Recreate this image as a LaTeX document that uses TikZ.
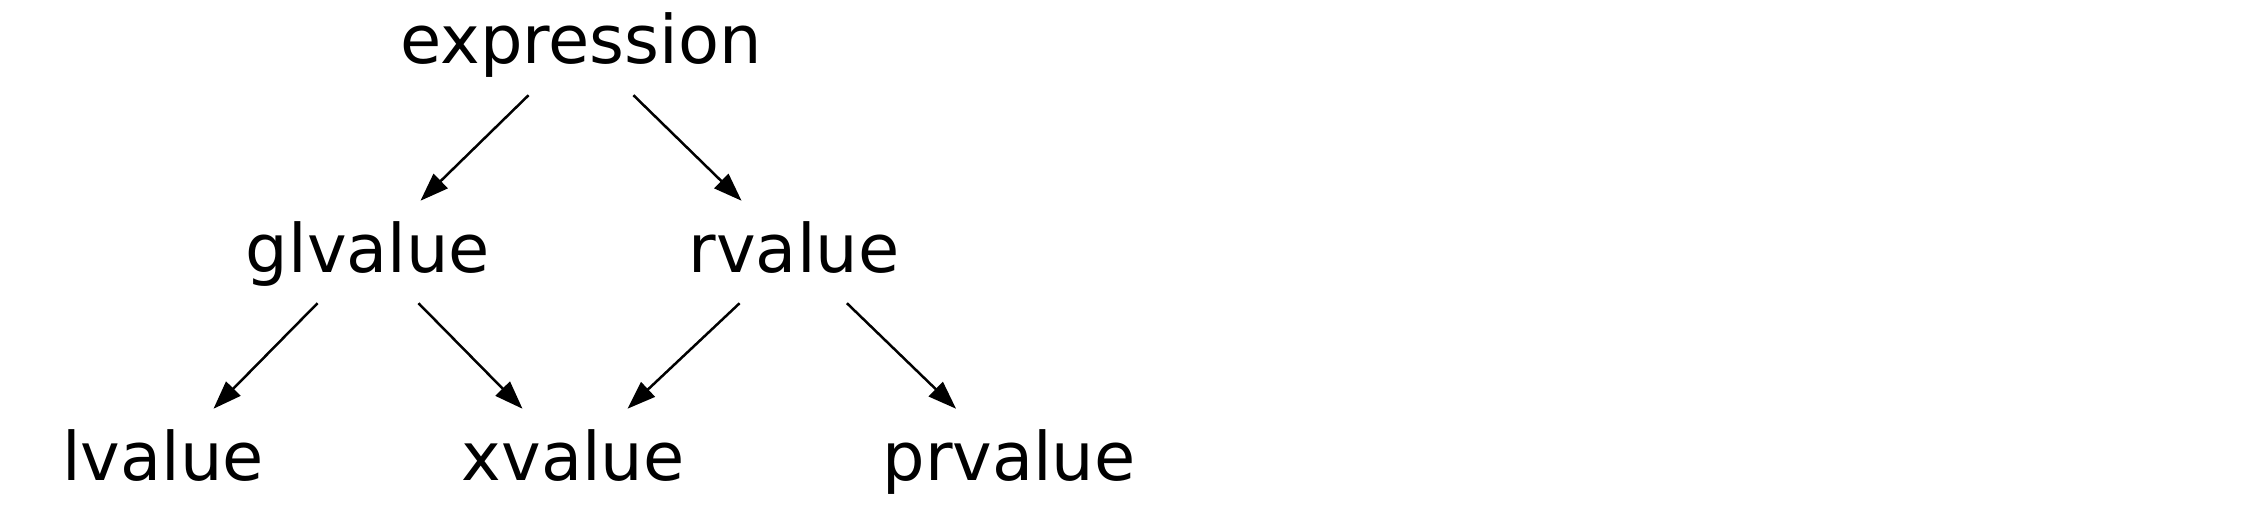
\documentclass[tikz,border=0pt]{standalone}
\usepackage{fontspec}
\setmainfont{DejaVu Sans}
\usepackage{tikz}
\usetikzlibrary{matrix,arrows.meta}

\begin{document}
\begin{tikzpicture}[>={Triangle[length=8.5pt,width=6pt]}, line width=.75pt]
					\fontsize{20.1pt}{24pt}\selectfont
					\useasboundingbox (0pt,0pt) rectangle (678.6pt,-157.5pt);
					\matrix(m) at (175.8pt,-75.6pt) [matrix of nodes, nodes={inner sep=0pt, minimum width=114pt, minimum height=30pt, text height=12pt, text depth=0pt}, column sep=-52.5pt, row sep=32.4pt]{
									&						&|[xshift=2.4pt](expression)|expression	&[2.4pt]				&[3pt]					\\
									&|(glvalue)|glvalue		&							&|(rvalue)|rvalue		&						\\
						|(lvalue)|lvalue	&						&|(xvalue)|xvalue			&						&|(prvalue)|prvalue		\\
					};
					\draw[->] (expression) -- (glvalue);
					\draw[->] (expression) -- (rvalue);
					\draw[->] (glvalue) -- (lvalue);
					\draw[->] (glvalue) -- (xvalue);
					\draw[->] (rvalue) -- (xvalue);
					\draw[->] (rvalue) -- (prvalue);
					\normalsize
				\end{tikzpicture}
\end{document}
